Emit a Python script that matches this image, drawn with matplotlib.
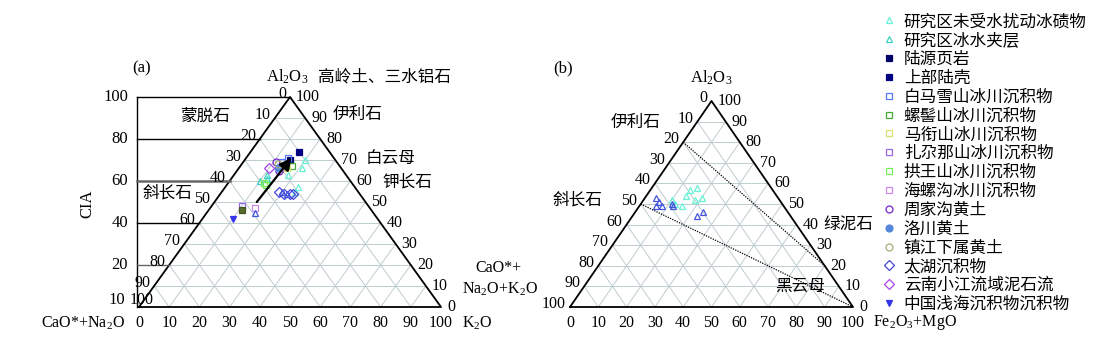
import matplotlib
matplotlib.use("Agg")
import matplotlib.pyplot as plt
from matplotlib.lines import Line2D

plt.rcParams['font.family'] = ['Liberation Serif', 'Noto Sans CJK SC']
plt.rcParams['mathtext.fontset'] = 'custom'
plt.rcParams['mathtext.rm'] = 'Liberation Serif'
plt.rcParams['mathtext.it'] = 'Liberation Serif:italic'

# ---- data (a): A-CN-K, values in %  (A = Al2O3 = CIA, K = K2O)
a_series = [
    # label, marker, color, filled, A list, K list
    ('研究区未受水扰动冰碛物', '^', '#66f2d6', False, [70, 66, 63, 57, 55], [20, 21, 18, 24, 24]),
    ('研究区冰水夹层', '^', '#3fd0c2', False, [63, 60, 61], [11, 10, 12]),
    ('陆源页岩', 's', '#000066', True, [70], [15]),
    ('上部陆壳', 's', '#000080', True, [74], [16]),
    ('白马雪山冰川沉积物', 's', '#5577ff', False, [71, 69], [14, 13]),
    ('螺髻山冰川沉积物', 's', '#44aa33', False, [67], [17]),
    ('马衔山冰川沉积物', 's', '#d8e070', False, [66], [16]),
    ('扎尕那山冰川沉积物', 's', '#9966ee', False, [48], [10]),
    ('拱王山冰川沉积物', 's', '#77ee55', False, [58, 59], [13, 12]),
    ('海螺沟冰川沉积物', 's', '#cc88ee', False, [47], [15]),
    ('周家沟黄土', 'o', '#7722cc', False, [69, 65], [11, 14]),
    ('洛川黄土', 'o', '#5588dd', True, [66], [13]),
    ('镇江下属黄土', 'o', '#aaaa77', False, [68], [12]),
    ('太湖沉积物', 'D', '#4444dd', False, [55, 54, 54, 54], [19, 21, 23, 24]),
    ('云南小江流域泥石流', 'D', '#aa44ee', False, [66], [10]),
    ('中国浅海沉积物沉积物', 'v', '#3333ee', True, [42], [10]),
]
# unlabeled points in (a)
blue_tri_A = [45, 55, 54]
blue_tri_K = [16, 20, 22]
olive_sq_A = [46]
olive_sq_K = [11]
arrow_A = [50, 71]
arrow_K = [14, 15]

# ---- data (b): A-CNK-FM, values in %
b_cyan_A = [58, 57, 54, 53, 52, 52, 49, 50]
b_cyan_FM = [16, 14, 14, 20, 18, 10, 15, 12]
b_blue_A = [53, 51, 49, 49, 49, 50, 44, 46]
b_blue_FM = [4, 6, 8, 6, 12, 11, 23, 24]

ticks = [0, 10, 20, 30, 40, 50, 60, 70, 80, 90, 100]
cia_ticks = [100, 80, 60, 40, 20]


def tern(top, right):
    # top, right in %, returns plotting coords (base 0..1, height 0..1)
    t = [v / 100 for v in top]
    r = [v / 100 for v in right]
    return [ri + ti / 2 for ti, ri in zip(t, r)], t


def draw_frame(ax, shift_last=False):
    gc = '#bfccd0'
    for i in range(1, 10):
        t = i / 10
        ax.plot([t / 2, 1 - t / 2], [t, t], color=gc, lw=0.7, zorder=1)
        ax.plot([t, t + (1 - t) / 2], [0, 1 - t], color=gc, lw=0.7, zorder=1)
        ax.plot([1 - t, (1 - t) / 2], [0, 1 - t], color=gc, lw=0.7, zorder=1)
    ax.plot([0, 1, 0.5, 0], [0, 0, 1, 0], color='black', lw=1.3, zorder=2)
    fs = 11.5
    for v in ticks:
        a = 1 - v / 100
        if shift_last and v == 100:
            ax.annotate(str(v), (a / 2, a), xytext=(3, 7), textcoords='offset pixels',
                        ha='center', va='center', fontsize=fs)
        else:
            ax.annotate(str(v), (a / 2, a), xytext=(-4, 3), textcoords='offset pixels',
                        ha='right', va='center', fontsize=fs)
        a = v / 100
        ax.annotate(str(v), (1 - a / 2, a), xytext=(6, 0), textcoords='offset pixels',
                    ha='left', va='center', fontsize=fs)
        ax.annotate(str(v), (v / 100, 0), xytext=(0, -16), textcoords='offset pixels',
                    ha='center', va='center', fontsize=fs)


fig = plt.figure(figsize=(11.12, 3.46), dpi=100)

# ---------------- panel (a)
axA = fig.add_axes([0, 0, 560 / 1112, 1])
axA.set_xlim(-139 / 302, (560 - 139) / 302)
axA.set_ylim(-39 / 210, 307 / 210)
axA.axis('off')
draw_frame(axA, shift_last=True)

# CIA axis and horizontal lines
xc = -0.007
axA.plot([xc, xc], [0, 1], color='black', lw=1.0)
for v in cia_ticks:
    a = v / 100
    col = '#666666' if v in (60, 20) else 'black'
    lw = 1.8 if v == 60 else 1.0
    axA.plot([xc, a / 2], [a, a], color=col, lw=lw, zorder=2)
    axA.text(-0.036, a, str(v), ha='right', va='center', fontsize=12)
axA.text(-0.045, 0.035, '10', ha='right', va='center', fontsize=12)
axA.text(-0.17, 0.49, 'CIA', rotation=90, ha='center', va='center', fontsize=12)

for lab, mk, col, filled, A, K in a_series:
    x, y = tern(A, K)
    axA.plot(x, y, ls='none', marker=mk, ms=5, mew=0.9, mec=col,
             mfc=col if filled else 'none', zorder=4)
x, y = tern(blue_tri_A, blue_tri_K)
axA.plot(x, y, ls='none', marker='^', ms=5, mew=0.9, mec='#4455dd', mfc='none', zorder=4)
x, y = tern(olive_sq_A, olive_sq_K)
axA.plot(x, y, ls='none', marker='s', ms=5, mew=0.9, mec='#445522', mfc='#556b2f', zorder=4)
x, y = tern(arrow_A, arrow_K)
axA.annotate('', xy=(x[1], y[1]), xytext=(x[0], y[0]), zorder=6,
             arrowprops=dict(arrowstyle='-|>', color='black', lw=1.6,
                             mutation_scale=18, shrinkA=0, shrinkB=0))

axA.text(0.219, 0.905, '蒙脱石', ha='center', va='center', fontsize=12)
axA.text(0.096, 0.538, '斜长石', ha='center', va='center', fontsize=12)
axA.text(0.642, 0.914, '伊利石', ha='left', va='center', fontsize=12)
axA.text(0.752, 0.70, '白云母', ha='left', va='center', fontsize=12)
axA.text(0.805, 0.595, '钾长石', ha='left', va='center', fontsize=12)
axA.text(0.42, 1.095, 'Al$_2$O$_3$', ha='left', va='center', fontsize=12)
axA.text(0.593, 1.095, '高岭土、三水铝石', ha='left', va='center', fontsize=12)
axA.text(0.01, 1.138, '(a)', ha='center', va='center', fontsize=12)
axA.text(-0.046, -0.076, 'CaO*+Na$_2$O', ha='right', va='center', fontsize=11.5)
axA.text(1.07, -0.076, 'K$_2$O', ha='left', va='center', fontsize=11.5)
axA.text(1.189, 0.186, 'CaO*+', ha='center', va='center', fontsize=11.5)
axA.text(1.195, 0.086, 'Na$_2$O+K$_2$O', ha='center', va='center', fontsize=11.5)

# ---------------- panel (b)
axB = fig.add_axes([540 / 1112, 0, 572 / 1112, 1])
axB.set_xlim(-30 / 283, (1112 - 570) / 283)
axB.set_ylim(-39 / 206, 307 / 206)
axB.axis('off')
draw_frame(axB)

# boundary lines
x, y = tern([80, 20], [0, 80])
axB.plot(x, y, color='black', lw=0.9, ls=(0, (1, 1)), zorder=2)
x, y = tern([50, 0], [0, 100])
axB.plot(x, y, color='black', lw=0.9, ls=(0, (1, 1)), zorder=2)

x, y = tern(b_cyan_A, b_cyan_FM)
axB.plot(x, y, ls='none', marker='^', ms=5, mew=0.9, mec='#66f2d6', mfc='none', zorder=4)
x, y = tern(b_blue_A, b_blue_FM)
axB.plot(x, y, ls='none', marker='^', ms=5, mew=0.9, mec='#4455dd', mfc='none', zorder=4)

axB.text(-0.025, 1.16, '(b)', ha='center', va='center', fontsize=12)
axB.text(0.498, 1.112, 'Al$_2$O$_3$', ha='center', va='center', fontsize=12)
axB.text(0.233, 0.893, '伊利石', ha='center', va='center', fontsize=12)
axB.text(0.028, 0.519, '斜长石', ha='center', va='center', fontsize=12)
axB.text(0.982, 0.398, '绿泥石', ha='center', va='center', fontsize=12)
axB.text(0.813, 0.097, '黑云母', ha='center', va='center', fontsize=12)
axB.text(1.071, -0.073, 'Fe$_2$O$_3$+MgO', ha='left', va='center', fontsize=11.5)

# ---------------- legend
handles = []
labels = []
for lab, mk, col, filled, A, K in a_series:
    handles.append(Line2D([], [], ls='none', marker=mk, ms=5, mew=0.9, mec=col,
                          mfc=col if filled else 'none'))
    labels.append(lab)
fig.legend(handles, labels, loc='upper left', bbox_to_anchor=(872 / 1112, 1 - 5 / 346),
           frameon=False, prop={'family': ['Noto Sans CJK SC'], 'size': 12},
           handlelength=1.0, handletextpad=0.4, labelspacing=0.11, borderpad=0)

fig.savefig('out.png', dpi=100)
